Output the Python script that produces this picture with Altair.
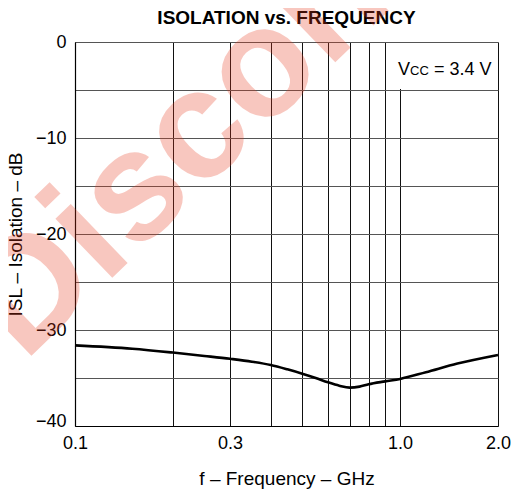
import altair as alt
import pandas as pd

# ---- data ----
freq_ghz = [0.1, 0.15, 0.2, 0.25, 0.3, 0.35, 0.4, 0.45, 0.5, 0.55, 0.6, 0.65,
            0.7, 0.75, 0.8, 0.9, 1.0, 1.2, 1.5, 2.0]
isolation_db = [-31.6, -31.95, -32.35, -32.7, -33.0, -33.3, -33.65, -34.1, -34.55,
                -35.0, -35.45, -35.8, -36.0, -35.9, -35.65, -35.35, -35.1,
                -34.4, -33.5, -32.6]

x_grid = [0.1, 0.2, 0.3, 0.4, 0.5, 0.6, 0.7, 0.8, 0.9, 1.0, 2.0]
x_labels = [0.1, 0.3, 1.0, 2.0]
y_grid = [-40, -35, -30, -25, -20, -15, -10, -5, 0]

box_x = [0.9, 2.0]
box_y = [0, -5]

FONT = "Liberation Sans"
W, H = 423, 384

curve = pd.DataFrame({"f": freq_ghz, "isl": isolation_db})
box = pd.DataFrame({"x": [box_x[0]], "x2": [box_x[1]], "y": [box_y[0]], "y2": [box_y[1]]})

x_scale = alt.Scale(type="log", domain=[x_grid[0], x_grid[-1]], nice=False)
y_scale = alt.Scale(domain=[y_grid[0], y_grid[-1]], nice=False)

label_test = " || ".join(f"abs(datum.value - {v}) < 1e-6" for v in x_labels)

x_axis = alt.Axis(
    values=x_grid,
    labelExpr=f"({label_test}) ? format(datum.value, '.1f') : ''",
    grid=True, gridColor="#111", gridWidth=1,
    ticks=False, domainColor="#000", domainWidth=1.2,
    labelFont=FONT, labelFontSize=18, labelColor="#000", labelPadding=8,
    labelFlush=False, labelOverlap=False,
    title="f – Frequency – GHz", titleFont=FONT, titleFontSize=19,
    titleFontWeight="normal", titleColor="#000", titlePadding=17,
)
y_axis = alt.Axis(
    values=y_grid,
    labelExpr="datum.value % 10 == 0 ? format(datum.value, 'd') : ''",
    labelBaseline={"condition": {"test": "datum.value == -40", "value": "alphabetic"},
                   "value": "middle"},
    grid=True, gridColor="#555", gridWidth=1.2,
    ticks=False, domainColor="#000", domainWidth=1.2,
    labelFont=FONT, labelFontSize=18, labelColor="#000", labelPadding=9,
    labelFlush=False, labelOverlap=False,
    title="ISL – Isolation – dB", titleFont=FONT, titleFontSize=19,
    titleFontWeight="normal", titleColor="#000", titlePadding=10,
)

rect = alt.Chart(box).mark_rect(
    color="white", xOffset=1, x2Offset=-1, yOffset=1, y2Offset=-1
).encode(
    x=alt.X("x:Q", scale=x_scale, axis=x_axis),
    x2="x2:Q",
    y=alt.Y("y:Q", scale=y_scale, axis=y_axis),
    y2="y2:Q",
)

line = alt.Chart(curve).mark_line(color="black", strokeWidth=2.6, interpolate="monotone").encode(
    x=alt.X("f:Q", scale=x_scale, axis=x_axis),
    y=alt.Y("isl:Q", scale=y_scale, axis=y_axis),
)

def label(text, size, x, y, weight="normal", align="left"):
    return alt.Chart(box).mark_text(
        text=text, font=FONT, fontSize=size, fontWeight=weight, align=align,
        baseline="alphabetic", color="black",
    ).encode(x=alt.value(x), y=alt.value(y))

t_title = label("ISOLATION vs. FREQUENCY", 19, W / 2, -18, weight="bold", align="center")
t_v = label("V", 18, W - 100, 33)
t_cc = label("CC", 13, W - 88, 33)
t_rest = label("= 3.4 V", 18, W - 64, 33)

watermark = alt.Chart(box).mark_text(
    text="Discontinued", font=FONT, fontSize=155, fontWeight="bold",
    align="left", baseline="alphabetic", angle=316,
    color="#e8391c", opacity=0.28,
).encode(x=alt.value(-51), y=alt.value(321))

chart = alt.layer(rect, line, t_title, t_v, t_cc, t_rest, watermark).properties(
    width=W, height=H,
    autosize=alt.AutoSizeParams(type="none"),
    padding={"left": 67, "top": 34, "right": 13, "bottom": 64},
).configure_view(stroke="#666", strokeWidth=1.2).configure(background="white")

chart.save("out.html", embed_options={"renderer": "svg", "actions": False})
